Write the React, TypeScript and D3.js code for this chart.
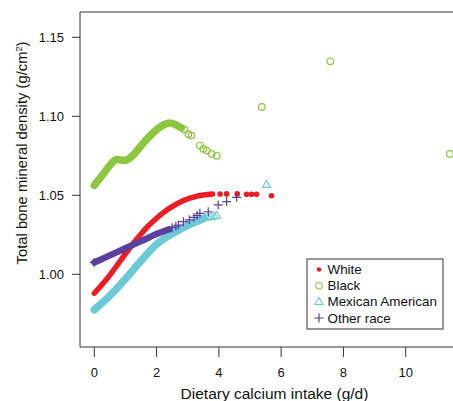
import React from "react";
import * as d3 from "d3";

// ---- data ----
const xTicks = [0, 2, 4, 6, 8, 10];
const yTicks = [1.0, 1.05, 1.1, 1.15];

// White: dense curve + sparse tail
const whiteCurveX = [0, 0.25, 0.5, 0.75, 1.0, 1.25, 1.5, 1.75, 2.0, 2.25, 2.5, 2.85, 3.3, 3.8];
const whiteCurveY = [0.988, 0.9935, 0.9995, 1.0062, 1.013, 1.0195, 1.0255, 1.031, 1.0355, 1.0395, 1.0428, 1.0465, 1.0495, 1.0508];
const whitePtsX = [4.04, 4.25, 4.59, 4.89, 5.05, 5.21, 5.69];
const whitePtsY = [1.0508, 1.0509, 1.0509, 1.0507, 1.0507, 1.0506, 1.0497];

// Black
const blackCurveX = [0, 0.25, 0.5, 0.72, 1.0, 1.25, 1.57, 2.0, 2.25, 2.43, 2.6, 2.8];
const blackCurveY = [1.0563, 1.0625, 1.069, 1.0726, 1.0721, 1.0755, 1.083, 1.0915, 1.0948, 1.0958, 1.0948, 1.0926];
const blackPtsX = [2.9, 3.02, 3.12, 3.39, 3.5, 3.61, 3.77, 3.93, 5.38, 7.58, 11.42];
const blackPtsY = [1.0915, 1.0888, 1.0878, 1.0815, 1.0794, 1.0783, 1.0762, 1.0751, 1.1059, 1.1348, 1.0762];

// Mexican American
const mexCurveX = [0, 0.5, 1.0, 1.5, 2.0, 2.5, 3.0, 3.5];
const mexCurveY = [0.9775, 0.9865, 0.997, 1.0085, 1.019, 1.0257, 1.031, 1.0352];
const mexPtsX = [3.55, 3.65, 3.75, 3.85, 3.93, 5.53];
const mexPtsY = [1.0358, 1.0362, 1.0365, 1.0368, 1.0372, 1.0568];

// Other race
const otherCurveX = [0, 0.5, 1.0, 1.5, 2.0, 2.4];
const otherCurveY = [1.0075, 1.012, 1.0165, 1.021, 1.0255, 1.0285];
const otherPtsX = [0.0, 2.5, 2.62, 2.7, 2.86, 3.05, 3.2, 3.3, 3.39, 3.66, 3.98, 4.25, 4.57];
const otherPtsY = [1.0075, 1.0295, 1.0305, 1.0312, 1.0333, 1.0345, 1.036, 1.0372, 1.0386, 1.0396, 1.0439, 1.046, 1.0487];

const legendLabels = ["White", "Black", "Mexican American", "Other race"];

const RED = "#ec1c24";
const GREEN = "#8dc63f";
const CYAN = "#6ccad8";
const PURPLE = "#5a3f9e";

const W = 453;
const H = 401;
const left = 80;
const top = 12;
const bottom = 347;

const x = d3.scaleLinear().domain([0, 10]).range([94.3, 405.7]);
const y = d3.scaleLinear().domain([1.0, 1.15]).range([274.3, 37.3]);

const line = d3
  .line<[number, number]>()
  .x((d) => x(d[0]))
  .y((d) => y(d[1]))
  .curve(d3.curveMonotoneX);

const zip = (a: number[], b: number[]) => a.map((v, i) => [v, b[i]] as [number, number]);

const font = "'Liberation Sans', Arial, Helvetica, sans-serif";

function Tri({ cx, cy, s, color }: { cx: number; cy: number; s: number; color: string }) {
  const h = s * 0.866;
  const p = `M${cx},${cy - h * 0.6}L${cx + s / 2},${cy + h * 0.4}L${cx - s / 2},${cy + h * 0.4}Z`;
  return <path d={p} fill="none" stroke={color} strokeWidth={1.1} />;
}

function Plus({ cx, cy, s, color }: { cx: number; cy: number; s: number; color: string }) {
  return (
    <path
      d={`M${cx - s},${cy}H${cx + s}M${cx},${cy - s}V${cy + s}`}
      stroke={color}
      strokeWidth={1.2}
      fill="none"
    />
  );
}

export default function App() {
  const legendY = [269.5, 285.7, 301.8, 318];
  return (
    <svg
      width={W}
      height={H}
      style={{ position: "absolute", left: 0, top: 0, background: "#fff" }}
      fontFamily={font}
    >
      <defs>
        <clipPath id="plotclip">
          <rect x={left} y={top} width={W - left} height={bottom - top} />
        </clipPath>
      </defs>

      <g clipPath="url(#plotclip)">
        {/* Mexican American */}
        <path d={line(zip(mexCurveX, mexCurveY)) || ""} fill="none" stroke={CYAN} strokeWidth={7.5} strokeLinecap="round" />
        {mexPtsX.map((v, i) => (
          <Tri key={"m" + i} cx={x(v)} cy={y(mexPtsY[i])} s={8} color={CYAN} />
        ))}
        {/* White */}
        <path d={line(zip(whiteCurveX, whiteCurveY)) || ""} fill="none" stroke={RED} strokeWidth={5.5} strokeLinecap="round" />
        {whitePtsX.map((v, i) => (
          <circle key={"w" + i} cx={x(v)} cy={y(whitePtsY[i])} r={2.8} fill={RED} />
        ))}
        {/* Other race */}
        <path d={line(zip(otherCurveX, otherCurveY)) || ""} fill="none" stroke={PURPLE} strokeWidth={6.5} strokeLinecap="round" />
        {otherPtsX.map((v, i) => (
          <Plus key={"o" + i} cx={x(v)} cy={y(otherPtsY[i])} s={4.5} color={PURPLE} />
        ))}
        {/* Black */}
        <path d={line(zip(blackCurveX, blackCurveY)) || ""} fill="none" stroke={GREEN} strokeWidth={7.5} strokeLinecap="round" />
        {blackPtsX.map((v, i) => (
          <circle key={"b" + i} cx={x(v)} cy={y(blackPtsY[i])} r={3.3} fill="none" stroke={GREEN} strokeWidth={1.2} />
        ))}
      </g>

      {/* axes frame */}
      <path d={`M${W},${top}H${left}V${bottom}H${W}`} fill="none" stroke="#333" strokeWidth={1} />

      {/* x ticks */}
      {xTicks.map((t) => (
        <g key={"xt" + t}>
          <line x1={x(t)} x2={x(t)} y1={bottom} y2={357} stroke="#333" strokeWidth={1} />
          <text x={x(t)} y={372} dy="0.35em" textAnchor="middle" fontSize={13} fill="#111">
            {t}
          </text>
        </g>
      ))}
      {/* y ticks */}
      {yTicks.map((t) => (
        <g key={"yt" + t}>
          <line x1={72} x2={left} y1={y(t)} y2={y(t)} stroke="#333" strokeWidth={1} />
          <text x={64} y={y(t)} dy="0.35em" textAnchor="end" fontSize={13} fill="#111">
            {t.toFixed(2)}
          </text>
        </g>
      ))}

      {/* axis titles */}
      <text x={274.5} y={394} dy="0.35em" textAnchor="middle" fontSize={15.5} fill="#111">
        Dietary calcium intake (g/d)
      </text>
      <text
        transform="translate(22,153) rotate(-90)"
        dy="0.35em"
        textAnchor="middle"
        fontSize={14.8}
        fill="#111"
      >
        Total bone mineral density (g/cm<tspan baselineShift="super" fontSize={9}>2</tspan>)
      </text>

      {/* legend */}
      <rect x={307} y={259} width={136} height={70} fill="#fff" stroke="#333" strokeWidth={1} />
      <circle cx={319} cy={legendY[0]} r={2.3} fill={RED} />
      <circle cx={319} cy={legendY[1]} r={3.2} fill="none" stroke={GREEN} strokeWidth={1.1} />
      <Tri cx={319} cy={legendY[2]} s={8} color={CYAN} />
      <Plus cx={319} cy={legendY[3]} s={4.5} color={PURPLE} />
      {legendLabels.map((l, i) => (
        <text key={l} x={327.5} y={legendY[i]} dy="0.35em" fontSize={13.4} fill="#111">
          {l}
        </text>
      ))}
    </svg>
  );
}
